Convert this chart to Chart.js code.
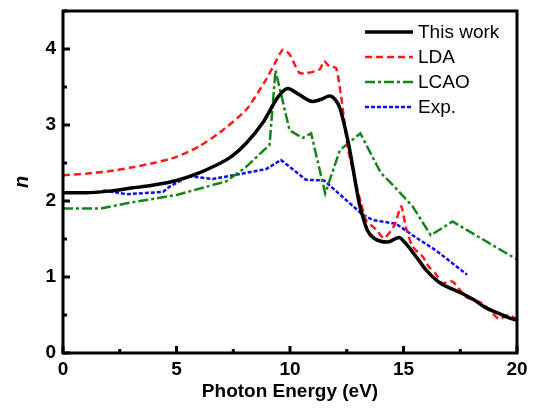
<!DOCTYPE html>
<html lang="en">
  <head>
    <meta charset="UTF-8" />
    <title>Refractive index n</title>
    <script src="https://cdn.jsdelivr.net/npm/chart.js"></script>
    <style>
      body { margin: 0; background: #fff; }
    </style>
  </head>
  <body>
    <canvas id="nChart" width="536" height="408"></canvas>

    <script>
      // photon energy (eV) / n
      const thisWorkE = [0, 1, 2, 3, 4, 5, 6, 6.6, 7.4, 8.07, 8.8, 9.5, 9.9, 10.3, 11.0, 11.4, 11.74, 12.0, 12.2, 12.6, 13.05, 13.2, 13.4, 13.7, 14.3, 14.8, 15.1, 15.55, 16.0, 16.57, 17.0, 17.6, 18.1, 18.6, 19.2, 19.6, 20];
      const thisWorkN = [2.11, 2.11, 2.13, 2.17, 2.21, 2.27, 2.37, 2.45, 2.58, 2.76, 3.03, 3.38, 3.48, 3.42, 3.31, 3.34, 3.38, 3.33, 3.22, 2.72, 1.97, 1.8, 1.62, 1.51, 1.46, 1.52, 1.44, 1.27, 1.09, 0.93, 0.86, 0.78, 0.7, 0.6, 0.52, 0.47, 0.43];

      const ldaE = [0, 1, 2, 3, 4, 5, 6, 6.9, 8.07, 8.95, 9.4, 9.68, 9.98, 10.4, 10.7, 11.3, 11.5, 11.74, 12.03, 12.25, 12.54, 12.9, 13.13, 13.35, 13.8, 14.15, 14.6, 14.9, 15.1, 15.4, 15.84, 16.13, 16.4, 16.7, 17.16, 17.74, 18.47, 19.2, 19.65, 20];
      const ldaN = [2.34, 2.36, 2.39, 2.44, 2.5, 2.58, 2.72, 2.9, 3.2, 3.6, 3.85, 3.99, 3.93, 3.69, 3.68, 3.73, 3.84, 3.77, 3.75, 3.38, 2.72, 2.23, 1.97, 1.75, 1.62, 1.51, 1.68, 1.93, 1.66, 1.4, 1.27, 1.13, 1.05, 0.92, 0.94, 0.74, 0.65, 0.45, 0.5, 0.44];

      const lcaoE = [0, 1.63, 3, 5, 7.2, 8.07, 9.1, 9.36, 9.98, 10.56, 10.93, 11.55, 12.2, 13.1, 14.0, 14.5, 15.4, 16.2, 17.16, 20];
      const lcaoN = [1.9, 1.9, 1.98, 2.08, 2.26, 2.45, 2.74, 3.72, 2.93, 2.83, 2.89, 2.1, 2.67, 2.89, 2.37, 2.22, 1.93, 1.55, 1.73, 1.23];

      const expE = [1.77, 2.8, 4.41, 4.7, 5.5, 5.75, 6.6, 8.07, 8.95, 9.6, 10.7, 11.5, 13.2, 13.64, 14.67, 15.7, 16.43, 17.8];
      const expN = [2.14, 2.09, 2.12, 2.19, 2.32, 2.32, 2.29, 2.37, 2.42, 2.54, 2.28, 2.27, 1.82, 1.75, 1.7, 1.49, 1.35, 1.03];

      const xTicks = [0, 5, 10, 15, 20];
      const yTicks = [0, 1, 2, 3, 4];

      function pts(xs, ys) {
        return xs.map((x, i) => ({ x: x, y: ys[i] }));
      }

      // inward ticks + closed box round the plot
      const framePlugin = {
        id: "frame",
        afterDatasetsDraw(chart) {
          const ctx = chart.ctx;
          const a = chart.chartArea;
          const xs = chart.scales.x;
          const ys = chart.scales.y;
          ctx.save();
          ctx.strokeStyle = "#000";
          ctx.lineWidth = 3;
          ctx.beginPath();
          for (let v = 0; v <= 20; v += 2.5) {
            const p = xs.getPixelForValue(v);
            const len = v % 5 === 0 ? 7 : 4;
            ctx.moveTo(p, a.bottom);
            ctx.lineTo(p, a.bottom - len);
          }
          for (let v = 0; v <= 4.5; v += 0.5) {
            const p = ys.getPixelForValue(v);
            const len = v % 1 === 0 ? 7 : 4;
            ctx.moveTo(a.left, p);
            ctx.lineTo(a.left + len, p);
          }
          ctx.stroke();
          ctx.strokeRect(a.left, a.top, a.right - a.left, a.bottom - a.top);
          ctx.restore();
        },
      };

      // legend drawn inside the upper right corner
      const boxLegend = {
        id: "boxLegend",
        afterDraw(chart) {
          const ctx = chart.ctx;
          const a = chart.chartArea;
          const x0 = a.right - 152;
          let y = a.top + 21;
          ctx.save();
          ctx.font = "19px 'Liberation Sans', Arial, sans-serif";
          ctx.textBaseline = "middle";
          ctx.fillStyle = "#000";
          chart.data.datasets.forEach((ds) => {
            ctx.strokeStyle = ds.borderColor;
            ctx.lineWidth = ds.borderWidth;
            ctx.setLineDash(ds.borderDash || []);
            ctx.beginPath();
            ctx.moveTo(x0, y);
            ctx.lineTo(x0 + 48, y);
            ctx.stroke();
            ctx.fillText(ds.label, x0 + 53, y + 1);
            y += 25;
          });
          ctx.restore();
        },
      };

      const ctx = document.getElementById("nChart").getContext("2d");
      new Chart(ctx, {
        type: "line",
        data: {
          datasets: [
            {
              label: "This work",
              data: pts(thisWorkE, thisWorkN),
              borderColor: "#000000",
              borderWidth: 3.5,
              tension: 0.4,
              cubicInterpolationMode: "monotone",
            },
            {
              label: "LDA",
              data: pts(ldaE, ldaN),
              borderColor: "#ff1a1a",
              borderWidth: 2.5,
              borderDash: [7, 4],
              tension: 0.2,
            },
            {
              label: "LCAO",
              data: pts(lcaoE, lcaoN),
              borderColor: "#15841a",
              borderWidth: 2.5,
              borderDash: [10, 3, 3, 3],
              tension: 0,
            },
            {
              label: "Exp.",
              data: pts(expE, expN),
              borderColor: "#1010ee",
              borderWidth: 2.5,
              borderDash: [4, 2],
              tension: 0,
            },
          ],
        },
        options: {
          responsive: false,
          animation: false,
          elements: { point: { radius: 0 } },
          layout: { padding: { top: 11, right: 19, left: 0, bottom: 0 } },
          plugins: {
            legend: { display: false },
            tooltip: { enabled: false },
          },
          scales: {
            x: {
              type: "linear",
              min: 0,
              max: 20,
              afterBuildTicks: (s) => {
                s.ticks = xTicks.map((v) => ({ value: v }));
              },
              afterFit: (s) => {
                s.height = 55;
                s.paddingLeft = 0;
                s.paddingRight = 0;
              },
              grid: { display: false, drawTicks: false },
              border: { display: false },
              ticks: {
                color: "#000",
                padding: 5,
                maxRotation: 0,
                font: { family: "'Liberation Sans', Arial, sans-serif", size: 19, weight: "bold" },
              },
              title: {
                display: true,
                text: "Photon Energy (eV)",
                color: "#000",
                padding: { top: 0, bottom: 5 },
                font: { family: "'Liberation Sans', Arial, sans-serif", size: 19, weight: "bold" },
              },
            },
            y: {
              type: "linear",
              min: 0,
              max: 4.5,
              afterBuildTicks: (s) => {
                s.ticks = yTicks.map((v) => ({ value: v }));
              },
              afterFit: (s) => {
                s.width = 63;
                s.paddingTop = 0;
                s.paddingBottom = 0;
              },
              grid: { display: false, drawTicks: false },
              border: { display: false },
              ticks: {
                color: "#000",
                padding: 7,
                font: { family: "'Liberation Sans', Arial, sans-serif", size: 19, weight: "bold" },
              },
              title: {
                display: true,
                text: "n",
                color: "#000",
                padding: { top: 10, bottom: 0 },
                font: { family: "'Liberation Sans', Arial, sans-serif", size: 20, weight: "bold", style: "italic" },
              },
            },
          },
        },
        plugins: [framePlugin, boxLegend],
      });
    </script>
  </body>
</html>
